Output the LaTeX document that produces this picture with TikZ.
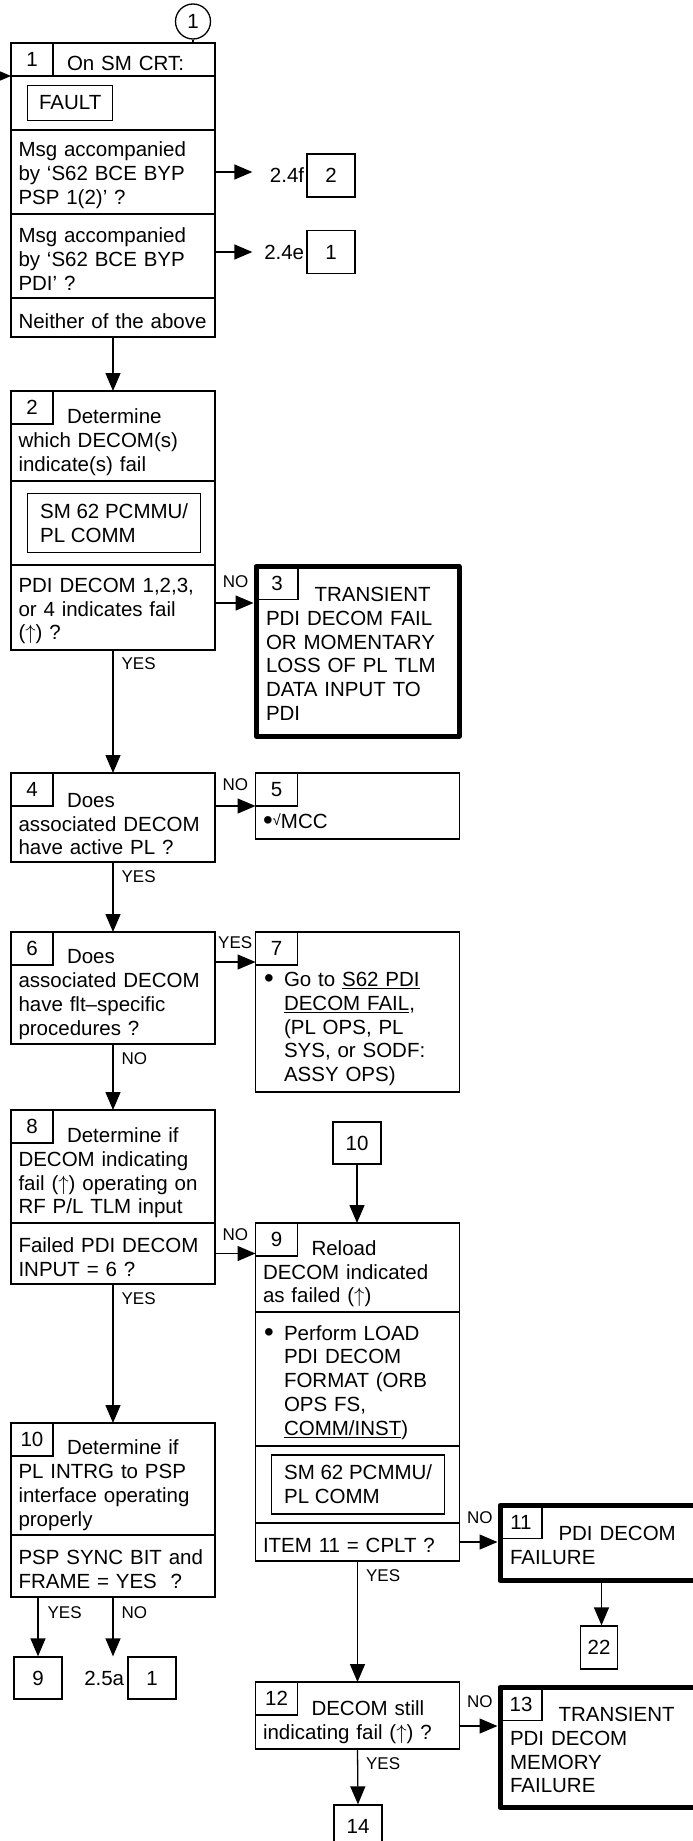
\documentclass[tikz,border=0pt]{standalone}
\usepackage{fontspec}
\setmainfont{Liberation Sans}
\usepackage{tikz}
\usetikzlibrary{arrows.meta}
\usetikzlibrary{calc}

\newcommand{\bigbul}{\raisebox{-1.2pt}{\scalebox{1.35}{\textbullet}}}
\newcommand{\bul}{\makebox[21pt][l]{\hspace{1pt}\bigbul}}
\newcommand{\ind}{\hspace*{21pt}}
\newcommand{\hd}{\hspace*{48.5pt}}
\newcommand{\up}{$\uparrow$}

\begin{document}
\begin{tikzpicture}[x=1pt, y=-1pt,
  every node/.style={font=\fontsize{20.5}{23.8}\selectfont},
  row/.style={draw, line width=1.3pt, anchor=north west, minimum width=204pt, text width=189pt, inner xsep=7.5pt, inner ysep=0pt, outer sep=0pt, align=left, execute at begin node={\rule{0pt}{21.5pt}}},
  hrow/.style={row, execute at begin node={\rule{0pt}{27.5pt}}},
  numcell/.style={draw, line width=1.3pt, anchor=north west, minimum width=42pt, minimum height=33pt, inner sep=0pt, outer sep=0pt},
  thickbox/.style={draw, line width=5pt, line join=round, anchor=north west, minimum width=203pt, text width=183pt, inner xsep=10pt, inner ysep=0pt, outer sep=0pt, align=left, execute at begin node={\rule{0pt}{19.5pt}}},
  scrbox/.style={draw, line width=1.3pt, anchor=west, minimum width=173pt, minimum height=59pt, align=left, inner sep=0pt},
  refbox/.style={draw, line width=1.3pt, minimum width=48pt, minimum height=43pt, inner sep=0pt},
  lbl/.style={font=\fontsize{17}{19}\selectfont, inner sep=1pt},
  arr/.style={line width=1.3pt, -{Triangle[length=18pt,width=15pt]}}]
\useasboundingbox (0,0) rectangle (693,1841);
\clip (0,0) rectangle (693,1841);

% ---------------- Block 1 : SM CRT message ----------------
\node[draw, circle, line width=1.3pt, minimum size=35pt, inner sep=0pt] (c1) at (193,21.5) {1};
\node[row, minimum height=33pt, execute at begin node={}] (b1a) at (11,43) {\hd On SM CRT:};
\node[numcell] (n1) at (b1a.north west) {1};
\node[row, minimum height=54pt] (b1b) at (b1a.south west) {};
\node[draw, line width=1.3pt, anchor=west, minimum width=85pt, minimum height=35pt, inner sep=0pt] (flt) at ([xshift=16pt]b1b.west) {FAULT};
\node[row, minimum height=84pt] (b1c) at (b1b.south west) {Msg accompanied\\by ‘S62 BCE BYP\\PSP 1(2)’ ?};
\node[row, minimum height=84pt] (b1d) at (b1c.south west) {Msg accompanied\\by ‘S62 BCE BYP\\PDI’ ?};
\node[row, minimum height=39pt] (b1e) at (b1d.south west) {Neither of the above};
\draw[line width=1.3pt] (c1.south) -- (c1.south |- b1a.north);
\coordinate (in1) at (-30,76);
\draw[arr] (in1) -- (b1a.south west);

\node[refbox] (r2) at (331,175.5) {2};
\node[anchor=east, inner sep=2pt] (l24f) at (r2.west) {2.4f};
\node[refbox] (r1) at (331,252) {1};
\node[anchor=east, inner sep=2pt] (l24e) at (r1.west) {2.4e};
\draw[arr, shorten >=54pt] (b1c.east) -- (b1c.east -| r2.west);
\draw[arr, shorten >=54pt] ([yshift=4pt]b1d.east) -- ([yshift=4pt]b1d.east -| r1.west);

% ---------------- Block 2 / 3 ----------------
\node[hrow, minimum height=90pt] (b2a) at (11,391) {\hd Determine\\which DECOM(s)\\indicate(s) fail};
\node[numcell] (n2) at (b2a.north west) {2};
\node[row, minimum height=84pt] (b2b) at (b2a.south west) {};
\node[scrbox] (sm2) at ([xshift=16pt]b2b.west) {SM 62 PCMMU/\\PL COMM};
\node[row, minimum height=85pt] (b2c) at (b2b.south west) {PDI DECOM 1,2,3,\\or 4 indicates fail\\(\up) ?};
\draw[arr] (b1e.south) -- (b2a.north);

\node[thickbox, minimum height=169.5pt] (b3) at (256,566.5) {\hd TRANSIENT\\PDI DECOM FAIL\\OR MOMENTARY\\LOSS OF PL TLM\\DATA INPUT TO\\PDI};
\node[numcell] (n3) at (b3.north west) {3};
\draw[arr, shorten >=2.5pt] ([yshift=4.5pt]b2c.east) -- node[lbl, above=14pt] (no2) {NO} ([yshift=4.5pt]b2c.east -| b3.west);

% ---------------- Block 4 / 5 ----------------
\node[hrow, minimum height=89pt] (b4) at (11,773) {\hd Does\\associated DECOM\\have active PL ?};
\node[numcell] (n4) at (b4.north west) {4};
\node[row, minimum height=66pt] (b5) at (255.5,773) {\strut\\[1pt]\bigbul\raisebox{3pt}{\fontsize{15}{15}\selectfont √}MCC};
\node[numcell] (n5) at (b5.north west) {5};
\draw[arr] (b2c.south) -- node[lbl, pos=0, anchor=north west, xshift=7pt, yshift=-6pt] (yes2) {YES} (b4.north);
\draw[arr] ([yshift=-33pt]b4.north east) -- node[lbl, above=14pt] (no4) {NO} ([yshift=-33pt]b4.north east -| b5.west);

% ---------------- Block 6 / 7 ----------------
\node[hrow, minimum height=112pt] (b6) at (11,932) {\hd Does\\associated DECOM\\have flt–specific\\procedures ?};
\node[numcell] (n6) at (b6.north west) {6};
\node[row, minimum height=160pt] (b7) at (255.5,932) {\strut\\[3pt]\bul Go to \underline{S62 PDI}\\\ind\underline{DECOM FAIL},\\\ind(PL OPS, PL\\\ind SYS, or SODF:\\\ind ASSY OPS)};
\node[numcell] (n7) at (b7.north west) {7};
\draw[arr] (b4.south) -- node[lbl, pos=0, anchor=north west, xshift=7pt, yshift=-7pt] (yes4) {YES} (b6.north);
\draw[arr] ([yshift=-30pt]b6.north east) -- node[lbl, above=12pt] (yes6) {YES} ([yshift=-30pt]b6.north east -| b7.west);

% ---------------- Block 8 / 9 ----------------
\node[hrow, minimum height=113pt] (b8a) at (11,1110) {\hd Determine if\\DECOM indicating\\fail (\up) operating on\\RF P/L TLM input};
\node[numcell] (n8) at (b8a.north west) {8};
\node[row, minimum height=61pt] (b8b) at (b8a.south west) {Failed PDI DECOM\\INPUT = 6 ?};
\draw[arr] (b6.south) -- node[lbl, pos=0, anchor=north west, xshift=7pt, yshift=-7pt] (no6) {NO} (b8a.north);

\node[refbox, minimum height=42pt] (r10) at (357,1143) {10};
\node[hrow, minimum height=89pt] (b9a) at (255.5,1223) {\hd Reload\\DECOM indicated\\as failed (\up)};
\node[numcell] (n9) at (b9a.north west) {9};
\node[row, minimum height=134pt] (b9b) at (b9a.south west) {\bul Perform LOAD\\\ind PDI DECOM\\\ind FORMAT (ORB\\\ind OPS FS,\\\ind\underline{COMM/INST})};
\node[row, minimum height=77pt] (b9c) at (b9b.south west) {};
\node[scrbox] (sm9) at ([xshift=15.5pt]b9c.west) {SM 62 PCMMU/\\PL COMM};
\node[row, minimum height=38pt] (b9d) at (b9c.south west) {ITEM 11 = CPLT ?};
\draw[arr] (r10.south) -- (r10.south |- b9a.north);
\draw[arr] (b8b.east) -- node[lbl, above=11pt] (no8) {NO} (b8b.east -| b9a.west);

% ---------------- Block 10 ----------------
\node[hrow, minimum height=112pt] (b10a) at (11,1423) {\hd Determine if\\PL INTRG to PSP\\interface operating\\properly};
\node[numcell] (n10) at (b10a.north west) {10};
\node[row, minimum height=62pt] (b10b) at (b10a.south west) {PSP SYNC BIT and\\FRAME = YES\ \ ?};
\draw[arr] (b8b.south) -- node[lbl, pos=0, anchor=north west, xshift=7pt, yshift=-7pt] (yes8) {YES} (b10a.north);

\node[refbox, minimum height=42pt] (r9) at (38,1678) {9};
\node[refbox, minimum height=42pt] (r1b) at (152,1678) {1};
\node[anchor=east, inner sep=3pt] (l25a) at (r1b.west) {2.5a};
\draw[arr] (b10b.south west -| r9.north) -- node[lbl, pos=0, anchor=north west, xshift=8pt, yshift=-8pt] (yes10) {YES} (r9.north);
\draw[arr] (b10b.south) -- node[lbl, pos=0, anchor=north west, xshift=7pt, yshift=-8pt] (no10) {NO} (b10b.south |- r1b.north);

% ---------------- Block 11 / 12 / 13 ----------------
\node[thickbox, minimum height=75pt, execute at begin node={}] (b11) at (500,1505.5) {\hd PDI DECOM\\FAILURE};
\node[numcell] (n11) at (b11.north west) {11};
\node[refbox, minimum width=37pt] (r22) at (599,1647.5) {22};
\draw[arr, shorten >=2.5pt] (b9d.east) -- node[lbl, above=17pt] (no9) {NO} (b9d.east -| b11.west);
\draw[arr] (b11.south) -- (b11.south |- r22.north);

\node[hrow, minimum height=67pt] (b12) at (255.5,1682) {\hd DECOM still\\indicating fail (\up) ?};
\node[numcell] (n12) at (b12.north west) {12};
\node[thickbox, minimum height=120pt] (b13) at (500,1687.5) {\hd TRANSIENT\\PDI DECOM\\MEMORY\\FAILURE};
\node[numcell] (n13) at (b13.north west) {13};
\node[refbox] (r14) at (358,1826.5) {14};
\draw[arr] (b9d.south) -- node[lbl, pos=0, anchor=north west, xshift=7pt, yshift=-7pt] (yes9) {YES} (b12.north);
\draw[arr, shorten >=2.5pt] ([yshift=-10.5pt]b12.east) -- node[lbl, above=17pt] (no12) {NO} ([yshift=-10.5pt]b12.east -| b13.west);
\draw[arr] (b12.south) -- node[lbl, pos=0, anchor=north west, xshift=7pt, yshift=-7pt] (yes12) {YES} (r14.north);

\end{tikzpicture}
\end{document}
